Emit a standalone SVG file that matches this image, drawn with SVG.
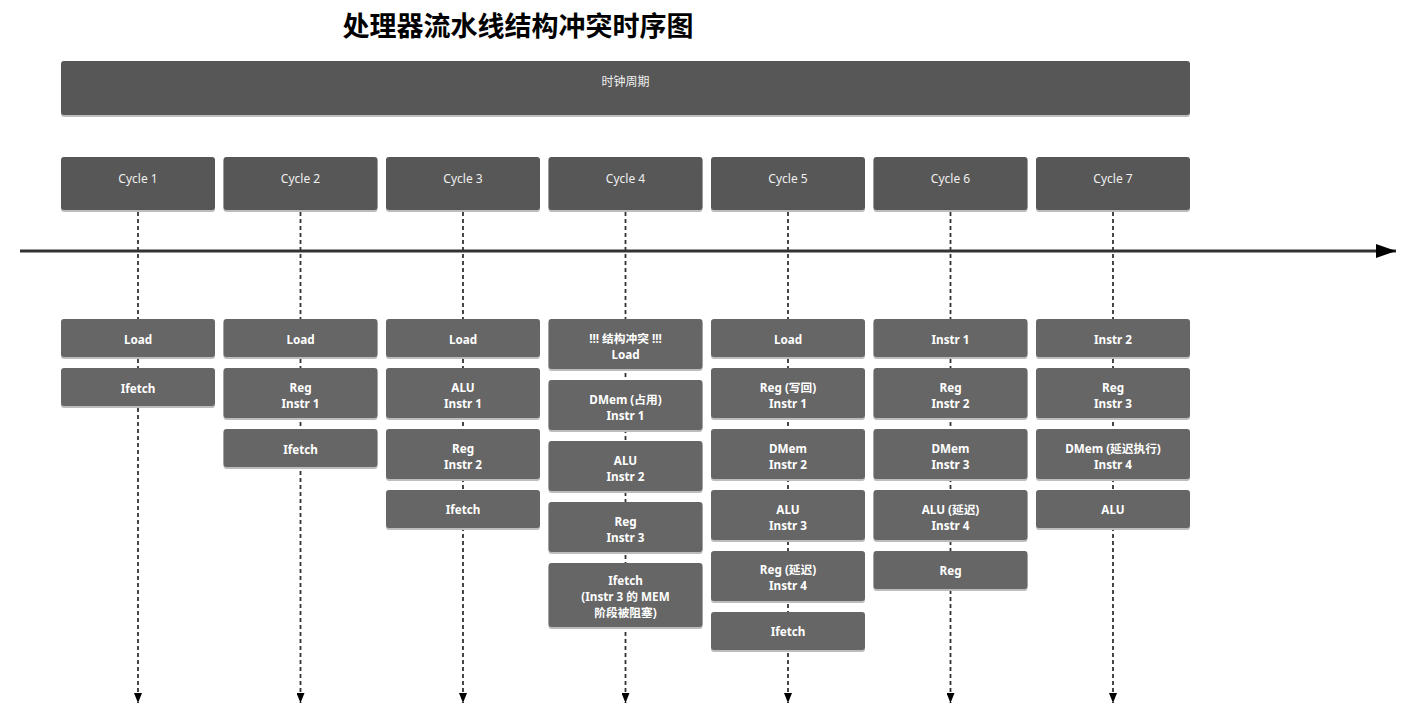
<svg xmlns="http://www.w3.org/2000/svg" width="1405" height="718" viewBox="0 0 1405 718">
<style>
.sh{fill:#bdbdbd}
.hd{fill:#575757}
.st{fill:#666666}
.t{font-family:"Noto Sans","Noto Sans CJK SC",sans-serif;font-size:11.7px;fill:#ffffff;text-anchor:middle;dominant-baseline:central}
.b{font-weight:bold}
.h{fill:#f0f0f0;font-size:12px}
.title{font-family:"Noto Sans CJK SC","Noto Sans",sans-serif;font-size:27px;font-weight:bold;fill:#000;text-anchor:middle}
.dl{stroke:#333;stroke-width:1.8;stroke-dasharray:4,3;fill:none}
</style>
<defs>
<marker id="ad" markerWidth="10" markerHeight="8" refX="10" refY="4" orient="auto" markerUnits="userSpaceOnUse" viewBox="0 0 10 8"><path d="M0,0 L10,4 L0,8 Z" fill="#000" stroke="none"/></marker>
<marker id="ar" markerWidth="20" markerHeight="14" refX="20" refY="7" orient="auto" markerUnits="userSpaceOnUse" viewBox="0 0 20 14"><path d="M0,0 L20,7 L0,14 Z" fill="#000" stroke="none"/></marker>
</defs>
<text class="title" x="518" y="36">处理器流水线结构冲突时序图</text>
<g id="connectors">
<line x1="20" y1="251" x2="1396" y2="251" stroke="#333" stroke-width="3" marker-end="url(#ar)"/>
<line class="dl" x1="138" y1="212" x2="138" y2="703" marker-end="url(#ad)"/>
<line class="dl" x1="300.5" y1="212" x2="300.5" y2="703" marker-end="url(#ad)"/>
<line class="dl" x1="463" y1="212" x2="463" y2="703" marker-end="url(#ad)"/>
<line class="dl" x1="625.5" y1="212" x2="625.5" y2="703" marker-end="url(#ad)"/>
<line class="dl" x1="788" y1="212" x2="788" y2="703" marker-end="url(#ad)"/>
<line class="dl" x1="950.5" y1="212" x2="950.5" y2="703" marker-end="url(#ad)"/>
<line class="dl" x1="1113" y1="212" x2="1113" y2="703" marker-end="url(#ad)"/>
</g>
<g id="clock"><rect class="sh" x="61" y="63" width="1129" height="54" rx="3"/><rect class="hd" x="61" y="61" width="1129" height="54" rx="3"/><text class="t h" x="625.5" y="81">时钟周期</text></g>
<g id="cycle1"><rect class="sh" x="61" y="159" width="154" height="53" rx="3"/><rect class="hd" x="61" y="157" width="154" height="53" rx="3"/><text class="t h" x="138" y="178">Cycle 1</text></g>
<g id="cycle2"><rect class="sh" x="223.5" y="159" width="154" height="53" rx="3"/><rect class="hd" x="223.5" y="157" width="154" height="53" rx="3"/><text class="t h" x="300.5" y="178">Cycle 2</text></g>
<g id="cycle3"><rect class="sh" x="386" y="159" width="154" height="53" rx="3"/><rect class="hd" x="386" y="157" width="154" height="53" rx="3"/><text class="t h" x="463" y="178">Cycle 3</text></g>
<g id="cycle4"><rect class="sh" x="548.5" y="159" width="154" height="53" rx="3"/><rect class="hd" x="548.5" y="157" width="154" height="53" rx="3"/><text class="t h" x="625.5" y="178">Cycle 4</text></g>
<g id="cycle5"><rect class="sh" x="711" y="159" width="154" height="53" rx="3"/><rect class="hd" x="711" y="157" width="154" height="53" rx="3"/><text class="t h" x="788" y="178">Cycle 5</text></g>
<g id="cycle6"><rect class="sh" x="873.5" y="159" width="154" height="53" rx="3"/><rect class="hd" x="873.5" y="157" width="154" height="53" rx="3"/><text class="t h" x="950.5" y="178">Cycle 6</text></g>
<g id="cycle7"><rect class="sh" x="1036" y="159" width="154" height="53" rx="3"/><rect class="hd" x="1036" y="157" width="154" height="53" rx="3"/><text class="t h" x="1113" y="178">Cycle 7</text></g>

<!-- column 1 -->
<g id="c1s1"><rect class="sh" x="61" y="321" width="154" height="38" rx="3"/><rect class="st" x="61" y="319" width="154" height="38" rx="3"/><text class="t b" x="138" y="339">Load</text></g>
<g id="c1s2"><rect class="sh" x="61" y="370" width="154" height="38" rx="3"/><rect class="st" x="61" y="368" width="154" height="38" rx="3"/><text class="t b" x="138" y="388">Ifetch</text></g>
<!-- column 2 -->
<g id="c2s1"><rect class="sh" x="223.5" y="321" width="154" height="38" rx="3"/><rect class="st" x="223.5" y="319" width="154" height="38" rx="3"/><text class="t b" x="300.5" y="339">Load</text></g>
<g id="c2s2"><rect class="sh" x="223.5" y="370" width="154" height="50" rx="3"/><rect class="st" x="223.5" y="368" width="154" height="50" rx="3"/><text class="t b" x="300.5" y="387">Reg<tspan x="300.5" dy="16">Instr 1</tspan></text></g>
<g id="c2s3"><rect class="sh" x="223.5" y="431" width="154" height="38" rx="3"/><rect class="st" x="223.5" y="429" width="154" height="38" rx="3"/><text class="t b" x="300.5" y="449">Ifetch</text></g>
<!-- column 3 -->
<g id="c3s1"><rect class="sh" x="386" y="321" width="154" height="38" rx="3"/><rect class="st" x="386" y="319" width="154" height="38" rx="3"/><text class="t b" x="463" y="339">Load</text></g>
<g id="c3s2"><rect class="sh" x="386" y="370" width="154" height="50" rx="3"/><rect class="st" x="386" y="368" width="154" height="50" rx="3"/><text class="t b" x="463" y="387">ALU<tspan x="463" dy="16">Instr 1</tspan></text></g>
<g id="c3s3"><rect class="sh" x="386" y="431" width="154" height="50" rx="3"/><rect class="st" x="386" y="429" width="154" height="50" rx="3"/><text class="t b" x="463" y="448">Reg<tspan x="463" dy="16">Instr 2</tspan></text></g>
<g id="c3s4"><rect class="sh" x="386" y="492" width="154" height="38" rx="3"/><rect class="st" x="386" y="490" width="154" height="38" rx="3"/><text class="t b" x="463" y="509">Ifetch</text></g>
<!-- column 4 -->
<g id="c4s1"><rect class="sh" x="548.5" y="321" width="154" height="50" rx="3"/><rect class="st" x="548.5" y="319" width="154" height="50" rx="3"/><text class="t b" x="625.5" y="338">!!! 结构冲突 !!!<tspan x="625.5" dy="16">Load</tspan></text></g>
<g id="c4s2"><rect class="sh" x="548.5" y="382" width="154" height="50" rx="3"/><rect class="st" x="548.5" y="380" width="154" height="50" rx="3"/><text class="t b" x="625.5" y="399">DMem (占用)<tspan x="625.5" dy="16">Instr 1</tspan></text></g>
<g id="c4s3"><rect class="sh" x="548.5" y="443" width="154" height="50" rx="3"/><rect class="st" x="548.5" y="441" width="154" height="50" rx="3"/><text class="t b" x="625.5" y="460">ALU<tspan x="625.5" dy="16">Instr 2</tspan></text></g>
<g id="c4s4"><rect class="sh" x="548.5" y="504" width="154" height="50" rx="3"/><rect class="st" x="548.5" y="502" width="154" height="50" rx="3"/><text class="t b" x="625.5" y="521">Reg<tspan x="625.5" dy="16">Instr 3</tspan></text></g>
<g id="c4s5"><rect class="sh" x="548.5" y="565" width="154" height="64" rx="3"/><rect class="st" x="548.5" y="563" width="154" height="64" rx="3"/><text class="t b" x="625.5" y="580">Ifetch<tspan x="625.5" dy="16">(Instr 3 的 MEM</tspan><tspan x="625.5" dy="16">阶段被阻塞)</tspan></text></g>
<!-- column 5 -->
<g id="c5s1"><rect class="sh" x="711" y="321" width="154" height="38" rx="3"/><rect class="st" x="711" y="319" width="154" height="38" rx="3"/><text class="t b" x="788" y="339">Load</text></g>
<g id="c5s2"><rect class="sh" x="711" y="370" width="154" height="50" rx="3"/><rect class="st" x="711" y="368" width="154" height="50" rx="3"/><text class="t b" x="788" y="387">Reg (写回)<tspan x="788" dy="16">Instr 1</tspan></text></g>
<g id="c5s3"><rect class="sh" x="711" y="431" width="154" height="50" rx="3"/><rect class="st" x="711" y="429" width="154" height="50" rx="3"/><text class="t b" x="788" y="448">DMem<tspan x="788" dy="16">Instr 2</tspan></text></g>
<g id="c5s4"><rect class="sh" x="711" y="492" width="154" height="50" rx="3"/><rect class="st" x="711" y="490" width="154" height="50" rx="3"/><text class="t b" x="788" y="509">ALU<tspan x="788" dy="16">Instr 3</tspan></text></g>
<g id="c5s5"><rect class="sh" x="711" y="553" width="154" height="50" rx="3"/><rect class="st" x="711" y="551" width="154" height="50" rx="3"/><text class="t b" x="788" y="569">Reg (延迟)<tspan x="788" dy="16">Instr 4</tspan></text></g>
<g id="c5s6"><rect class="sh" x="711" y="614" width="154" height="38" rx="3"/><rect class="st" x="711" y="612" width="154" height="38" rx="3"/><text class="t b" x="788" y="631">Ifetch</text></g>
<!-- column 6 -->
<g id="c6s1"><rect class="sh" x="873.5" y="321" width="154" height="38" rx="3"/><rect class="st" x="873.5" y="319" width="154" height="38" rx="3"/><text class="t b" x="950.5" y="339">Instr 1</text></g>
<g id="c6s2"><rect class="sh" x="873.5" y="370" width="154" height="50" rx="3"/><rect class="st" x="873.5" y="368" width="154" height="50" rx="3"/><text class="t b" x="950.5" y="387">Reg<tspan x="950.5" dy="16">Instr 2</tspan></text></g>
<g id="c6s3"><rect class="sh" x="873.5" y="431" width="154" height="50" rx="3"/><rect class="st" x="873.5" y="429" width="154" height="50" rx="3"/><text class="t b" x="950.5" y="448">DMem<tspan x="950.5" dy="16">Instr 3</tspan></text></g>
<g id="c6s4"><rect class="sh" x="873.5" y="492" width="154" height="50" rx="3"/><rect class="st" x="873.5" y="490" width="154" height="50" rx="3"/><text class="t b" x="950.5" y="509">ALU (延迟)<tspan x="950.5" dy="16">Instr 4</tspan></text></g>
<g id="c6s5"><rect class="sh" x="873.5" y="553" width="154" height="38" rx="3"/><rect class="st" x="873.5" y="551" width="154" height="38" rx="3"/><text class="t b" x="950.5" y="570">Reg</text></g>
<!-- column 7 -->
<g id="c7s1"><rect class="sh" x="1036" y="321" width="154" height="38" rx="3"/><rect class="st" x="1036" y="319" width="154" height="38" rx="3"/><text class="t b" x="1113" y="339">Instr 2</text></g>
<g id="c7s2"><rect class="sh" x="1036" y="370" width="154" height="50" rx="3"/><rect class="st" x="1036" y="368" width="154" height="50" rx="3"/><text class="t b" x="1113" y="387">Reg<tspan x="1113" dy="16">Instr 3</tspan></text></g>
<g id="c7s3"><rect class="sh" x="1036" y="431" width="154" height="50" rx="3"/><rect class="st" x="1036" y="429" width="154" height="50" rx="3"/><text class="t b" x="1113" y="448">DMem (延迟执行)<tspan x="1113" dy="16">Instr 4</tspan></text></g>
<g id="c7s4"><rect class="sh" x="1036" y="492" width="154" height="38" rx="3"/><rect class="st" x="1036" y="490" width="154" height="38" rx="3"/><text class="t b" x="1113" y="509">ALU</text></g>
</svg>
